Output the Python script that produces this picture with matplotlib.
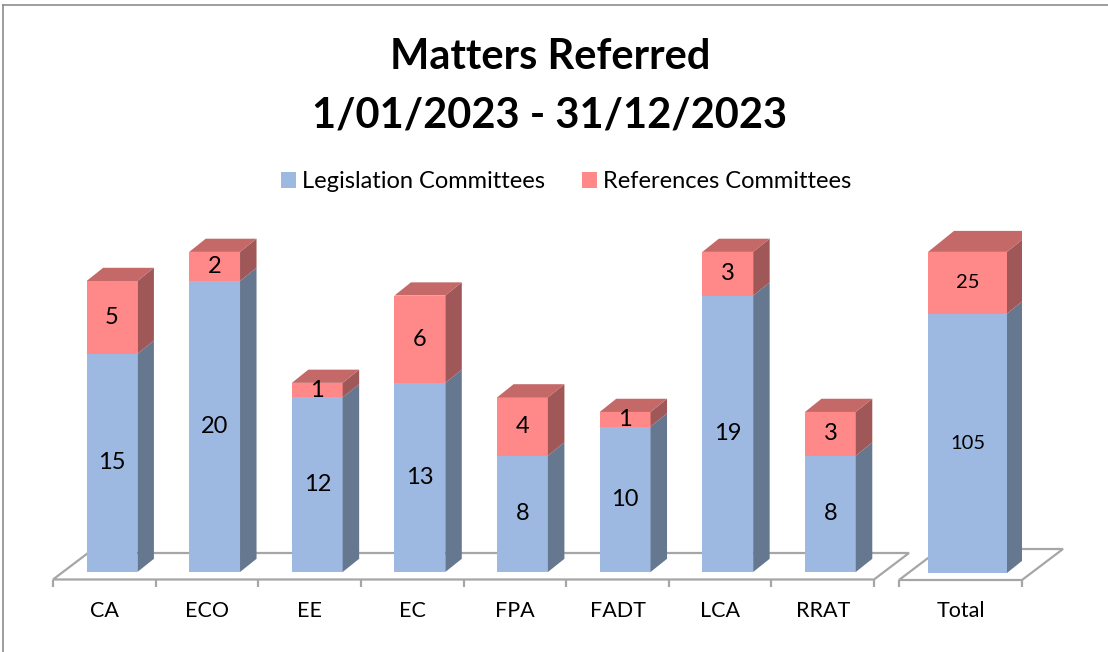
import matplotlib.pyplot as plt
from matplotlib.patches import Polygon, Patch
from matplotlib.lines import Line2D

plt.rcParams['font.family'] = ['Lato', 'DejaVu Sans']

# data
committees = ["CA", "ECO", "EE", "EC", "FPA", "FADT", "LCA", "RRAT"]
legislation = [15, 20, 12, 13, 8, 10, 19, 8]
references = [5, 2, 1, 6, 4, 1, 3, 3]
total_label = "Total"
total_legislation = sum(legislation)
total_references = sum(references)

# colours (front, side, top)
blue = ('#9DB9E1', '#657890', '#7D93B3')
red = ('#FF8888', '#A05757', '#C46868')
floor_col = '#A6A6A6'

W, H = 1108, 652
fig = plt.figure(figsize=(W / 100, H / 100), dpi=100)

ax_bottom, ax_top = 595, 190  # pixel rows of axes box
ax = fig.add_axes([53 / W, 1 - ax_bottom / H, 821 / W, (ax_bottom - ax_top) / H])
ax2 = fig.add_axes([899 / W, 1 - ax_bottom / H, 123 / W, (ax_bottom - ax_top) / H])
ax.set_xlim(-0.5, 7.5)
ax.set_ylim(-(ax_bottom - 572) / 14.55, (572 - ax_top) / 14.55)
ax2.set_xlim(-0.5, 0.5)
ax2.set_ylim(-(ax_bottom - 573) / 2.47, (573 - ax_top) / 2.47)


def px_to_data(a, dxp, dyp):
    # convert a pixel offset into data units of axes a
    x0, y0 = a.transData.transform((0, 0))
    inv = a.transData.inverted()
    x1, y1 = inv.transform((x0 + dxp, y0 + dyp))
    return x1, y1


def draw_floor(a, x_left, x_right, depth_px, drop_px, n_ticks):
    dx, dy = px_to_data(a, *depth_px)
    _, yf = px_to_data(a, 0, -drop_px)
    pts = [(x_left, yf), (x_right, yf), (x_right + dx, yf + dy), (x_left + dx, yf + dy)]
    a.add_patch(Polygon(pts, closed=True, facecolor='white', edgecolor=floor_col,
                        lw=1.6, zorder=1, clip_on=False, joinstyle='miter'))
    _, tick = px_to_data(a, 0, -7)
    step = (x_right - x_left) / n_ticks
    for i in range(n_ticks + 1):
        xt = x_left + i * step
        a.plot([xt, xt], [yf, yf + tick], color=floor_col, lw=1.6, zorder=1,
               clip_on=False, solid_capstyle='butt')


def draw_bar(a, x, bottom, height, width, depth_px, cols, top_face, label, fs):
    dx, dy = px_to_data(a, *depth_px)
    front, side, top = cols
    a.bar(x, height, width, bottom=bottom, color=front, zorder=3, lw=0)
    xr = x + width / 2
    xl = x - width / 2
    yt = bottom + height
    a.add_patch(Polygon([(xr, bottom), (xr + dx, bottom + dy), (xr + dx, yt + dy), (xr, yt)],
                        closed=True, facecolor=side, lw=0, zorder=3))
    if top_face:
        a.add_patch(Polygon([(xl, yt), (xl + dx, yt + dy), (xr + dx, yt + dy), (xr, yt)],
                            closed=True, facecolor=top, lw=0, zorder=3))
    a.text(x, bottom + height / 2, label, ha='center', va='center', fontsize=fs,
           color='black', zorder=4)


# committees
draw_floor(ax, -0.5, 7.5, (35, 26.5), 7.5, len(committees))
for i, name in enumerate(committees):
    xb = i + 0.075
    draw_bar(ax, xb, 0, legislation[i], 0.495, (16.5, 13.2), blue, False, str(legislation[i]), 17)
    draw_bar(ax, xb, legislation[i], references[i], 0.495, (16.5, 13.2), red, True, str(references[i]), 17)

# total
draw_floor(ax2, -0.5, 0.5, (41, 31), 7, 1)
draw_bar(ax2, 0.057, 0, total_legislation, 0.642, (26, 21), blue, False, str(total_legislation), 14.5)
draw_bar(ax2, 0.057, total_legislation, total_references, 0.642, (26, 21), red, True,
         str(total_references), 14.5)

for a, labels in ((ax, committees), (ax2, [total_label])):
    a.set_xticks(range(len(labels)))
    a.set_xticklabels(labels, fontsize=15.5)
    a.tick_params(axis='x', length=0, pad=4)
    a.set_yticks([])
    for s in a.spines.values():
        s.set_visible(False)
    a.patch.set_alpha(0)

# title
fig.text(550 / W, 1 - 57 / H, "Matters Referred", ha='center', va='center',
         fontsize=30, fontweight='bold')
fig.text(550 / W, 1 - 115 / H, "1/01/2023 - 31/12/2023", ha='center', va='center',
         fontsize=30, fontweight='bold')

# legend
handles = [Patch(facecolor=blue[0], edgecolor='none', label='Legislation Committees'),
           Patch(facecolor=red[0], edgecolor='none', label='References Committees')]
fig.legend(handles=handles, loc='center', bbox_to_anchor=(566 / W, 1 - 182 / H), ncol=2,
           frameon=False, fontsize=17, handlelength=0.64, handleheight=0.64,
           handletextpad=0.25, columnspacing=1.57)

# outer frame
fig.add_artist(Line2D([3 / W, 1], [1 - 5 / H, 1 - 5 / H], transform=fig.transFigure,
                      color='#8C8C8C', lw=1.2))
fig.add_artist(Line2D([3 / W, 3 / W], [0, 1 - 5 / H], transform=fig.transFigure,
                      color='#8C8C8C', lw=1.2))

fig.savefig('out.png', dpi=100)
